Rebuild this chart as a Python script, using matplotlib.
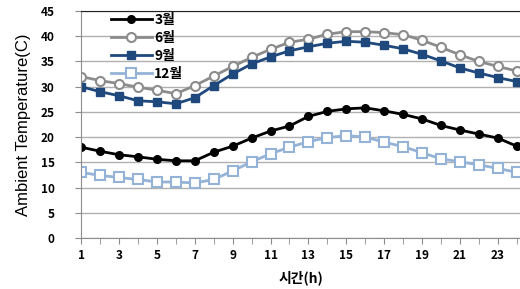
import matplotlib
matplotlib.use("Agg")
import matplotlib.pyplot as plt

plt.rcParams['font.family'] = ['Noto Sans CJK KR', 'DejaVu Sans']

hours = list(range(1, 25))
mar = [18.0, 17.2, 16.5, 16.1, 15.6, 15.3, 15.3, 17.0, 18.2, 19.8, 21.2, 22.2,
       24.1, 25.1, 25.6, 25.8, 25.2, 24.5, 23.6, 22.3, 21.4, 20.6, 19.8, 18.2]
jun = [32.0, 31.2, 30.6, 29.9, 29.3, 28.6, 30.2, 32.1, 34.0, 35.8, 37.4, 38.8,
       39.4, 40.4, 40.9, 40.9, 40.7, 40.3, 39.2, 37.8, 36.3, 35.0, 34.0, 33.1]
sep = [30.0, 29.0, 28.2, 27.2, 27.0, 26.6, 27.8, 30.2, 32.5, 34.5, 35.9, 37.1,
       37.9, 38.6, 39.0, 38.8, 38.2, 37.5, 36.4, 35.1, 33.7, 32.7, 31.8, 31.0]
dec = [13.0, 12.4, 12.0, 11.6, 11.1, 11.1, 10.9, 11.6, 13.3, 15.1, 16.7, 18.0,
       19.1, 19.9, 20.3, 20.0, 19.0, 18.1, 16.9, 15.7, 15.1, 14.5, 13.8, 13.0]
labels = ['3월', '6월', '9월', '12월']

fig = plt.figure(figsize=(5.2, 2.89), dpi=100)
ax = fig.add_axes([0.156, 0.1765, 0.844, 0.7855])

ax.plot(hours, mar, color='black', lw=2, marker='o', ms=5.5, label=labels[0])
ax.plot(hours, jun, color='#8c8c8c', lw=2, marker='o', ms=6.5, mfc='white',
        mew=1.5, label=labels[1])
ax.plot(hours, sep, color='#1f497d', lw=2, marker='s', ms=5.5, label=labels[2])
ax.plot(hours, dec, color='#95b3d7', lw=2, marker='s', ms=6.5, mfc='white',
        mew=1.5, label=labels[3])

ax.set_xlim(1, 24.17)
ax.set_ylim(0, 45)
ax.set_yticks(range(0, 46, 5))
ax.set_xticks(range(1, 25, 2))
ax.set_xticks(range(1, 25), minor=True)
ax.grid(axis='y', color='#b0b0b0', lw=1)
ax.set_axisbelow(True)

for s in ['left', 'bottom']:
    ax.spines[s].set_color('#8c8c8c')
ax.spines['right'].set_visible(False)
ax.spines['top'].set_color('#222222')
ax.tick_params(axis='both', which='both', colors='#8c8c8c', direction='out',
               length=4, labelcolor='black', labelsize=8.5)
ax.tick_params(axis='y', pad=15)
ax.tick_params(axis='x', pad=4)
for t in ax.get_xticklabels() + ax.get_yticklabels():
    t.set_fontweight('bold')

ax.set_ylabel('Ambient Temperature(C)', fontsize=12,
              family=['Liberation Sans', 'DejaVu Sans'], labelpad=7)
ax.set_xlabel('시간(h)', fontsize=10, fontweight='bold', labelpad=6)

leg = ax.legend(loc='upper left', bbox_to_anchor=(0.045, 1.035), frameon=False,
                fontsize=10, handlelength=3.0, handletextpad=0.15,
                labelspacing=0.3, borderpad=0.2)
for t in leg.get_texts():
    t.set_fontweight('bold')

fig.savefig('out.png', dpi=100)
